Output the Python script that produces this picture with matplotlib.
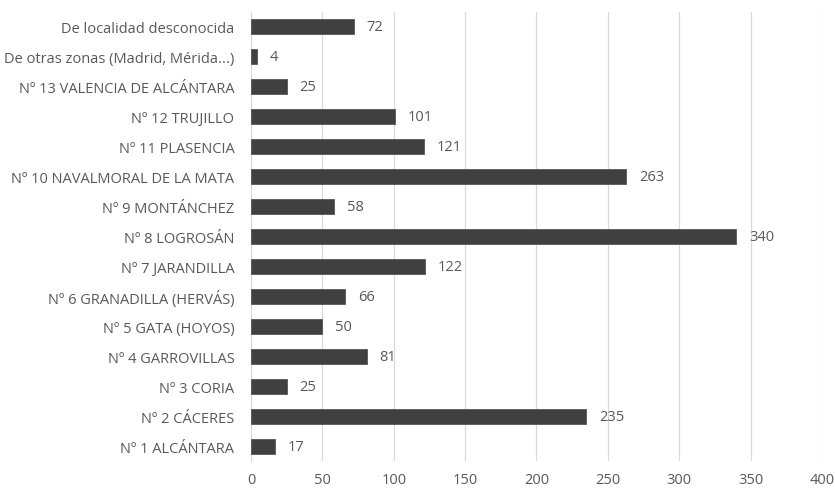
import matplotlib
matplotlib.use("Agg")
import matplotlib.pyplot as plt
import numpy as np

# categories listed bottom to top
categories = [
    "Nº 1 ALCÁNTARA",
    "Nº 2 CÁCERES",
    "Nº 3 CORIA",
    "Nº 4 GARROVILLAS",
    "Nº 5 GATA (HOYOS)",
    "Nº 6 GRANADILLA (HERVÁS)",
    "Nº 7 JARANDILLA",
    "Nº 8 LOGROSÁN",
    "Nº 9 MONTÁNCHEZ",
    "Nº 10 NAVALMORAL DE LA MATA",
    "Nº 11 PLASENCIA",
    "Nº 12 TRUJILLO",
    "Nº 13 VALENCIA DE ALCÁNTARA",
    "De otras zonas (Madrid, Mérida...)",
    "De localidad desconocida",
]
values = [17, 235, 25, 81, 50, 66, 122, 340, 58, 263, 121, 101, 25, 4, 72]
x_ticks = [0, 50, 100, 150, 200, 250, 300, 350, 400]

TEXT = "#595959"
plt.rcParams["font.family"] = ["Open Sans", "DejaVu Sans"]

fig = plt.figure(figsize=(8.35, 4.89), dpi=100)
ax = fig.add_axes([0.3006, 0.0552, 0.6838, 0.9182])

y = np.arange(len(categories))
ax.barh(y, values, height=0.5, color="#404040", edgecolor="#555555",
        linewidth=0.6, zorder=3)

for yi, v in zip(y, values):
    ax.text(v + 9, yi, str(v), va="center", ha="left", fontsize=10.5, color=TEXT)

ax.set_xlim(0, 400)
ax.set_ylim(-0.5, len(categories) - 0.5)
ax.set_xticks(x_ticks)
ax.set_yticks(y)
ax.set_yticklabels(categories)
ax.tick_params(axis="both", length=0, labelsize=10.5, colors=TEXT)
ax.tick_params(axis="y", pad=12)
ax.tick_params(axis="x", pad=8)

ax.grid(axis="x", color="#d9d9d9", linewidth=0.9, zorder=0)
for s in ["top", "right", "bottom"]:
    ax.spines[s].set_visible(False)
ax.spines["left"].set_color("#d9d9d9")

fig.savefig("out.png", dpi=100)
